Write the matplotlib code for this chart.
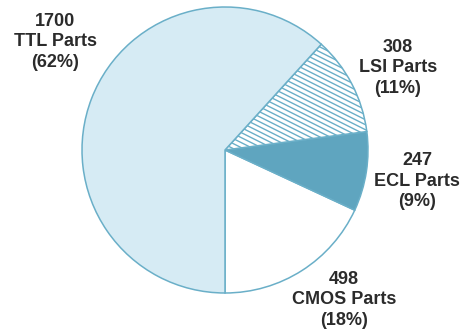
import numpy as np
import matplotlib
matplotlib.use("Agg")
import matplotlib.pyplot as plt
from matplotlib.lines import Line2D

# Parts counts by logic family
families = ["CMOS", "ECL", "LSI", "TTL"]
counts = [498, 247, 308, 1700]
percents = [18, 9, 11, 62]

fill_colors = ["#ffffff", "#5fa5bf", "#ffffff", "#d6ebf4"]
edge_color = "#6aafc8"
text_color = "#2b2b2b"

W, H, DPI = 463, 334, 100
cx, cy, rad = 225, 150, 143  # pie centre and radius in pixels

fig = plt.figure(figsize=(W / DPI, H / DPI), dpi=DPI)
ax = fig.add_axes([0, 0, 1, 1])

wedges, _ = ax.pie(counts, colors=fill_colors, startangle=-90,
                   counterclock=True, radius=1.0,
                   wedgeprops=dict(edgecolor=edge_color, linewidth=1.1))

ax.set_xlim((0 - cx) / rad, (W - cx) / rad)
ax.set_ylim((cy - H) / rad, cy / rad)
ax.set_aspect("equal")
ax.axis("off")

# diagonal hatching on the LSI wedge
lsi = wedges[families.index("LSI")]
slope = -0.5
step = 5.0 / rad
for c in np.arange(-1.5, 2.0, step):
    xs = np.array([-1.2, 1.2])
    ln = Line2D(xs, c + slope * xs, color=edge_color, linewidth=1.0, zorder=2)
    ln.set_clip_path(lsi)
    ax.add_line(ln)

# labels: centre of the middle line, in pixels
label_pos = {"CMOS": (344, 300), "ECL": (417, 181), "LSI": (398, 68), "TTL": (55, 42)}
for fam, n, p in zip(families, counts, percents):
    px, py = label_pos[fam]
    ax.text((px - cx) / rad, (cy - py) / rad, f"{n}\n{fam} Parts\n({p}%)",
            ha="center", va="center", multialignment="center",
            fontsize=13, fontweight="bold", family="Liberation Sans",
            color=text_color, linespacing=1.3)

fig.savefig("out.png", dpi=DPI)
